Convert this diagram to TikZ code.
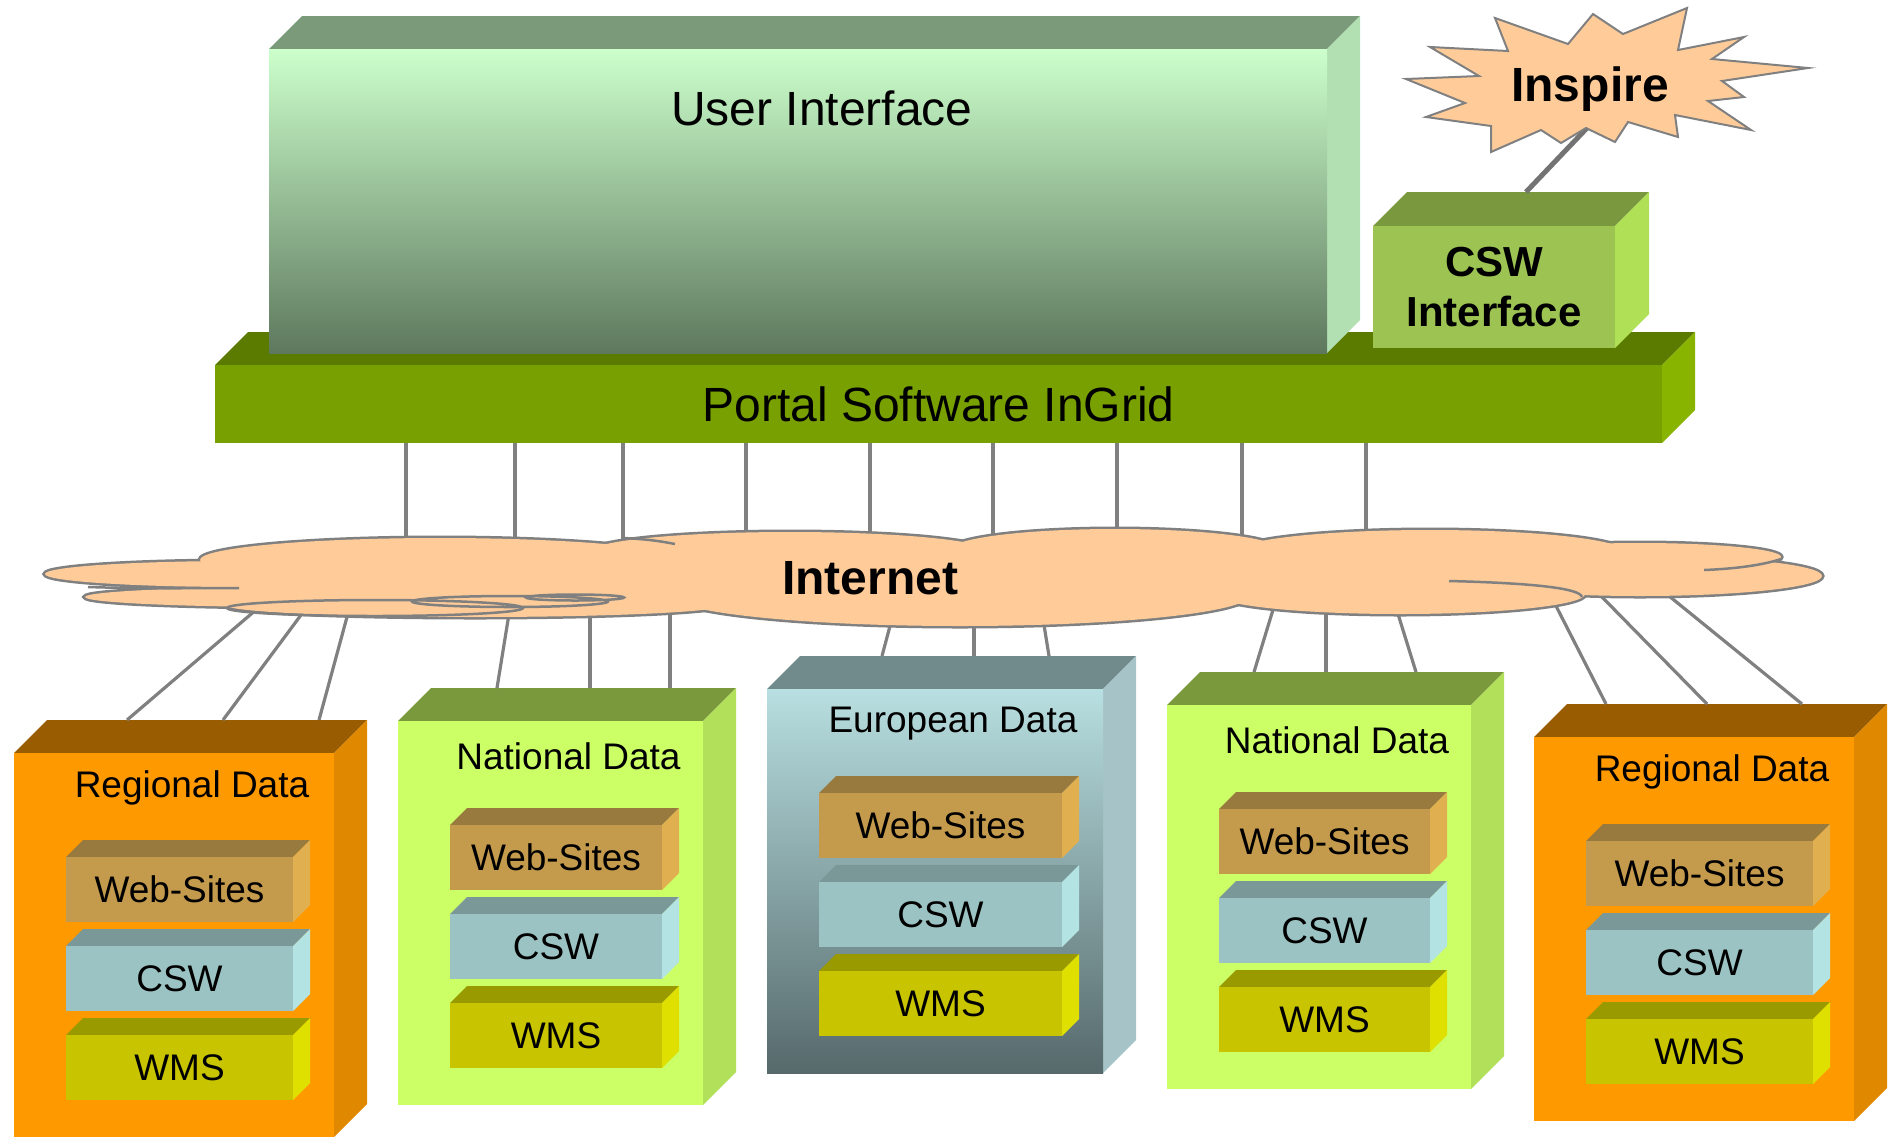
\documentclass[tikz,border=0pt]{standalone}
\usepackage{fontspec}
\setmainfont{Liberation Sans}
\usetikzlibrary{calc}

\definecolor{uiTop}{HTML}{7A9A7A}
\definecolor{uiSide}{HTML}{B3E0B3}
\definecolor{uiHigh}{HTML}{CCFFCC}
\definecolor{uiMid}{HTML}{A3CBA3}
\definecolor{uiLow}{HTML}{5E785E}
\definecolor{portalTop}{HTML}{5A7A00}
\definecolor{portalSide}{HTML}{88B400}
\definecolor{portalFront}{HTML}{77A000}
\definecolor{cswifTop}{HTML}{7A983E}
\definecolor{cswifSide}{HTML}{B0E055}
\definecolor{cswifFront}{HTML}{9DC352}
\definecolor{regTop}{HTML}{995C00}
\definecolor{regSide}{HTML}{E08800}
\definecolor{regFront}{HTML}{FF9900}
\definecolor{natTop}{HTML}{7A993D}
\definecolor{natSide}{HTML}{B3E05A}
\definecolor{natFront}{HTML}{CCFF66}
\definecolor{euTop}{HTML}{718A8C}
\definecolor{euSide}{HTML}{A6C4C7}
\definecolor{euHigh}{HTML}{B8DFE1}
\definecolor{euMid}{HTML}{A4C6C8}
\definecolor{euLow}{HTML}{56696B}
\definecolor{webTop}{HTML}{997A3E}
\definecolor{webSide}{HTML}{E0B050}
\definecolor{webFront}{HTML}{C49A4C}
\definecolor{cswTop}{HTML}{7A9898}
\definecolor{cswSide}{HTML}{B3E3E3}
\definecolor{cswFront}{HTML}{9CC3C3}
\definecolor{wmsTop}{HTML}{999900}
\definecolor{wmsSide}{HTML}{E0E000}
\definecolor{wmsFront}{HTML}{C8C400}
\definecolor{puff}{HTML}{FFCC99}
\definecolor{wire}{HTML}{808080}

\tikzset{
  face/.style={inner sep=0pt, outer sep=0pt, align=center},
  ui face/.style={top color=uiHigh, middle color=uiMid, bottom color=uiLow},
  eu face/.style={top color=euHigh, middle color=euMid, bottom color=euLow},
  portal face/.style={fill=portalFront, font=\fontsize{48}{58}\selectfont},
  cswif face/.style={fill=cswifFront, font=\bfseries\fontsize{42}{50}\selectfont},
  reg face/.style={fill=regFront},
  nat face/.style={fill=natFront},
  web face/.style={fill=webFront, font=\fontsize{37}{44}\selectfont},
  csw face/.style={fill=cswFront, font=\fontsize{37}{44}\selectfont},
  wms face/.style={fill=wmsFront, font=\fontsize{37}{44}\selectfont},
  heading/.style={inner sep=0pt, font=\fontsize{37}{44}\selectfont},
  bigtext/.style={inner sep=0pt, font=\fontsize{48}{58}\selectfont},
  boldtext/.style={inner sep=0pt, font=\bfseries\fontsize{48}{58}\selectfont},
  wire line/.style={draw=wire, line width=3.2pt},
}

% name, x, y, width, height, depth, colour set, text
\newcommand{\blockbox}[8]{%
  \fill[#7Top] (#2,#3) -- ++(#6,-#6) -- ++(#4,0) -- ++(-#6,#6) -- cycle;
  \fill[#7Side] ({#2+#4},#3) -- ++(#6,-#6) -- ++(0,#5) -- ++(-#6,#6) -- cycle;
  \node[face, #7 face, anchor=north west, minimum width={(#4)*1pt}, minimum height={(#5)*1pt}] (#1) at (#2,#3) {#8};
}

% name, x, y, width, colour set, title
\newcommand{\datablock}[6]{%
  \blockbox{#1}{#2}{#3}{#4}{384}{33}{#5}{}
  \node[heading] at ($(#1.north)+(18,35)$) {#6};
  \blockbox{#1-web}{#2+52}{#3+104}{#4-93}{65}{17}{web}{Web-Sites}
  \blockbox{#1-csw}{#2+52}{#3+193}{#4-93}{65}{17}{csw}{CSW}
  \blockbox{#1-wms}{#2+52}{#3+282}{#4-93}{65}{17}{wms}{WMS}
}

\begin{document}
\begin{tikzpicture}[x=1pt,y=-1pt]
  \useasboundingbox (0,0) rectangle (1890,1136);

  \blockbox{portal}{215}{365}{1447}{78}{33}{portal}{Portal Software InGrid}
  \blockbox{ui}{269}{49}{1058}{304}{33}{ui}{}
  \node[bigtext] at ($(ui.north)+(24,59)$) {User Interface};
  \blockbox{cswif}{1373}{226}{242}{122}{34}{cswif}{CSW\\Interface}

  \datablock{regL}{14}{753}{320}{reg}{Regional Data}
  \datablock{natL}{398}{721}{305}{nat}{National Data}
  \datablock{euro}{767}{689}{336}{eu}{European Data}
  \datablock{natR}{1167}{705}{304}{nat}{National Data}
  \datablock{regR}{1534}{737}{320}{reg}{Regional Data}

  \coordinate (netcore) at (870,578);
  \foreach \x in {406,515,623,746,870,993,1117,1242,1366}
    \draw[wire line] (\x,0 |- portal.south) -- (\x,0 |- netcore);

  \foreach \blk/\sx/\sy/\ex in {regL/250/615/113, regL/301/615/209, regL/347/617/305,
      natL/508/620/99, natL/590/620/192, natL/670/618/272,
      euro/890/626/115, euro/974/625/207, euro/1044/625/282,
      natR/1272/613/87, natR/1326/615/159, natR/1398/614/249,
      regR/1555/604/72, regR/1601/596/173, regR/1669/596/268}
    \draw[wire line, shorten <=-16pt] (\sx,\sy) -- ($(\blk.north west)+(\ex,-33)$);

  \def\puffs{240/574/195/13, 440/560/240/22, 300/597/215/10, 475/605/250/12,
    500/580/300/25, 790/552/200/20, 900/570/250/28, 960/595/290/31, 1115/550/165/21,
    1200/575/200/25, 1300/575/300/28, 1430/552/195/22, 1640/557/141/14,
    1640/576/182/20, 1400/594/185/20}
  \foreach \cx/\cy/\rx/\ry in \puffs
    \draw[draw=wire, line width=5pt] (\cx,\cy) ellipse [x radius=\rx pt, y radius=\ry pt];
  \foreach \cx/\cy/\rx/\ry in \puffs
    \fill[puff] (\cx,\cy) ellipse [x radius=\rx pt, y radius=\ry pt];
  \draw[wire, line width=2.5pt] (375,608) ellipse [x radius=148pt, y radius=8pt]
    (510,601.5) ellipse [x radius=98pt, y radius=5.5pt]
    (575,597.5) ellipse [x radius=49pt, y radius=3pt];
  \draw[wire, line width=2.5pt] (88,587) .. controls (150,589) and (200,588) .. (239,588)
    (623,538) .. controls (645,539) and (660,541) .. (675,544)
    (1781,559) .. controls (1760,566) and (1730,569) .. (1704,570)
    (1449,581) .. controls (1530,583) and (1580,588) .. (1582,597);
  \node[boldtext] (internet) at (netcore) {Internet};

  \coordinate (inspirefoot) at (1587,128);
  \draw[draw=wire!90!black, line width=5pt] ($(cswif.north west)+(153,-34)$) -- (inspirefoot);
  \filldraw[fill=puff, draw=wire, line width=2pt]
    (1406,79) -- (1479,76) -- (1430,47) -- (1508,51) -- (1495,18) -- (1568,44)
    -- (1593,14) -- (1623,34) -- (1687,8) -- (1678,50) -- (1744,37) -- (1712,59)
    -- (1808,68) -- (1722,81) -- (1744,97) -- (1708,101) -- (1751,130) -- (1675,115)
    -- (1678,137) -- (1628,122) -- (1615,142) -- (1586,128) -- (1561,143) -- (1541,130)
    -- (1491,152) -- (1491,126) -- (1426,117) -- (1465,103) -- cycle;
  \node[boldtext] (inspire) at (1590,89) {Inspire};
\end{tikzpicture}
\end{document}
